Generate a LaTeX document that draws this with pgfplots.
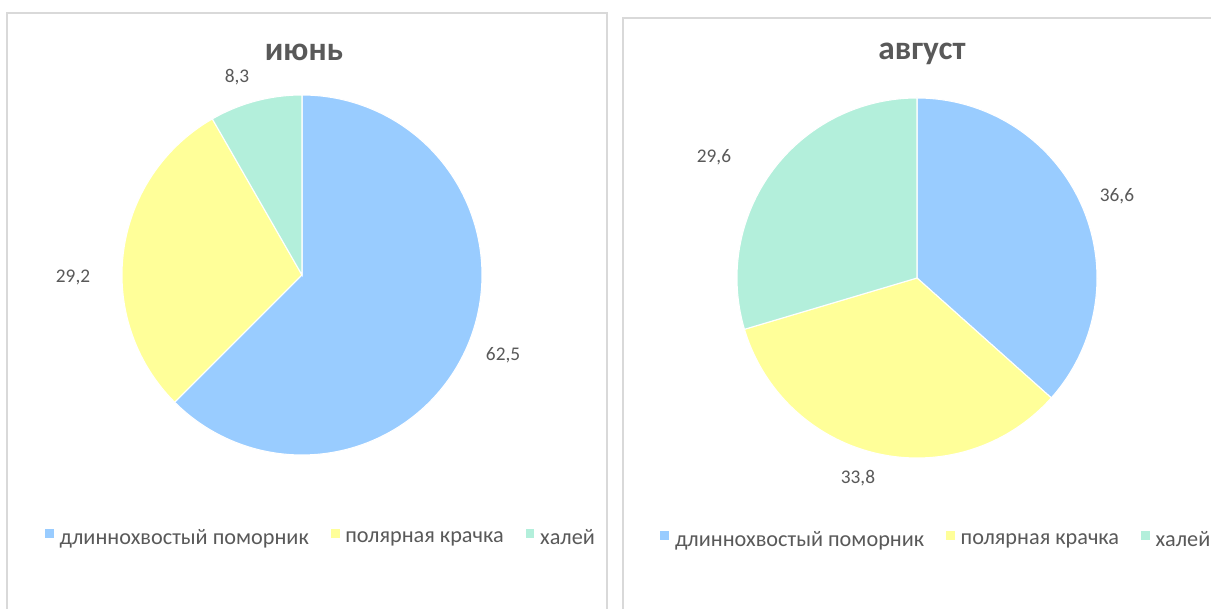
\documentclass[border=0pt]{standalone}
\usepackage{pgfplots}
\pgfplotsset{compat=1.18}
\usepackage{fontspec}
\setmainfont{Carlito}
\definecolor{cblue}{HTML}{99CCFF}
\definecolor{cyel}{HTML}{FFFF99}
\definecolor{cmint}{HTML}{B3EFDB}
\definecolor{ctext}{HTML}{595959}
\definecolor{cborder}{HTML}{D9D9D9}
\tikzset{lbl/.style={font=\fontsize{14.5}{17}\selectfont, text=ctext}}
\pgfplotsset{
  piestyle/.style={
    hide axis, scale only axis, width=270pt, height=270pt,
    xmin=-1, xmax=1, ymin=-1, ymax=1, clip=false,
    legend columns=3,
    legend image code/.code={\fill[##1] (0pt,-0.2pt) rectangle (7.5pt,7.3pt);},
    legend style={draw=none, fill=none, font=\fontsize{16.7}{19}\selectfont, text=ctext,
      /tikz/every even column/.append style={column sep=12pt},
      /tikz/every odd column/.append style={column sep=0pt},
      inner sep=0pt, nodes={inner xsep=3.5pt}},
  },
  slice/.style={draw=white, line width=0.8pt, samples=150},
}
\begin{document}
\begin{tikzpicture}[x=0.75pt,y=0.75pt]
\clip (0,0) rectangle (1211,609);
\fill[white] (0,0) rectangle (1211,609);
\draw[cborder, line width=1.2pt] (7,596) rectangle (607,-40);
\draw[cborder, line width=1.2pt] (623,591) rectangle (1260,-40);
% ---- June ----
\begin{axis}[piestyle, at={(226.5pt,250.5pt)}, anchor=center,
  legend style={at={(0.555,-0.23)}, anchor=center}]
\addplot[slice, fill=cblue, domain=-135:90] ({cos(x)},{sin(x)}) -- (0,0) -- cycle;
\addlegendentry{длиннохвостый поморник}
\addplot[slice, fill=cyel, domain=-240.12:-135] ({cos(x)},{sin(x)}) -- (0,0) -- cycle;
\addlegendentry{полярная крачка}
\addplot[slice, fill=cmint, domain=-270:-240.12] ({cos(x)},{sin(x)}) -- (0,0) -- cycle;
\addlegendentry{халей}
\node[lbl] at (axis cs:1.117,-0.444) {62,5};
\node[lbl] at (axis cs:-1.272,-0.011) {29,2};
\node[lbl] at (axis cs:-0.361,1.10) {8,3};
\end{axis}
\node[font=\fontsize{25}{28}\selectfont\bfseries, text=ctext] at (304,557) {июнь};
% ---- August ----
\begin{axis}[piestyle, at={(687.75pt,248.25pt)}, anchor=center,
  legend style={at={(0.556,-0.228)}, anchor=center}]
\addplot[slice, fill=cblue, domain=-41.76:90] ({cos(x)},{sin(x)}) -- (0,0) -- cycle;
\addlegendentry{длиннохвостый поморник}
\addplot[slice, fill=cyel, domain=-163.44:-41.76] ({cos(x)},{sin(x)}) -- (0,0) -- cycle;
\addlegendentry{полярная крачка}
\addplot[slice, fill=cmint, domain=-270:-163.44] ({cos(x)},{sin(x)}) -- (0,0) -- cycle;
\addlegendentry{халей}
\node[lbl] at (axis cs:1.111,0.456) {36,6};
\node[lbl] at (axis cs:-0.328,-1.111) {33,8};
\node[lbl] at (axis cs:-1.128,0.672) {29,6};
\end{axis}
\node[font=\fontsize{25}{28}\selectfont\bfseries, text=ctext] at (922,555) {август};
\end{tikzpicture}
\end{document}
